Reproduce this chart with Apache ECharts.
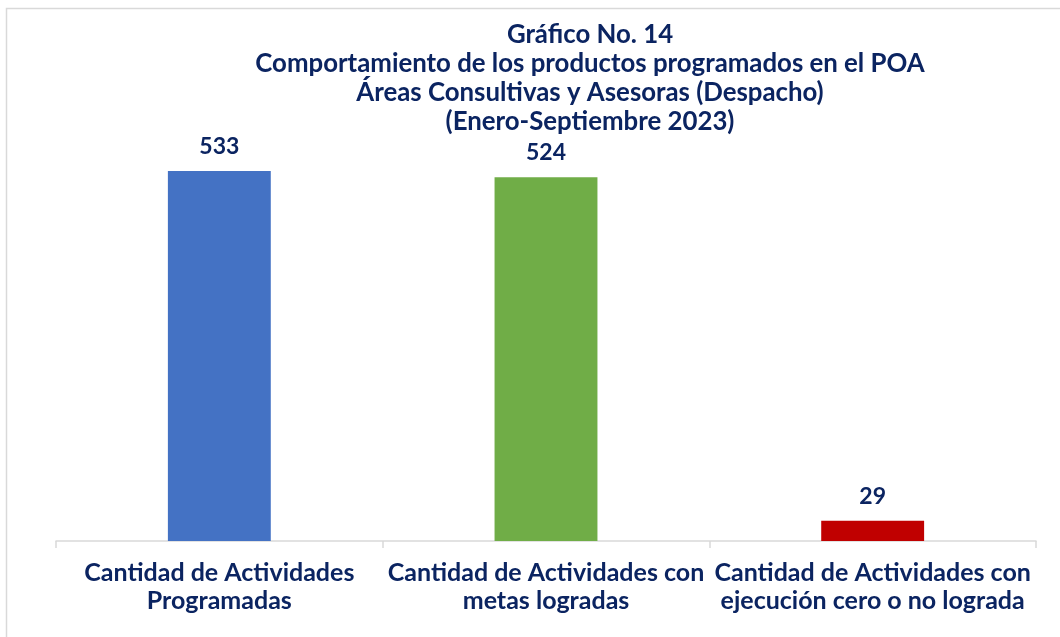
<!DOCTYPE html>
<html>
<head>
<meta charset="utf-8">
<script src="https://cdn.jsdelivr.net/npm/echarts@6/dist/echarts.min.js"></script>
<style>
  html, body { margin: 0; padding: 0; background: #fff; }
  #chart { width: 1060px; height: 637px; }
</style>
</head>
<body>
<div id="chart"></div>
<script>
const titleLines = [
  'Gráfico No. 14',
  'Comportamiento de los productos programados en el POA',
  'Áreas Consultivas y Asesoras (Despacho)',
  '(Enero-Septiembre 2023)'
];
const categories = [
  'Cantidad de Actividades\nProgramadas',
  'Cantidad de Actividades con\nmetas logradas',
  'Cantidad de Actividades con\nejecución cero o no lograda'
];
const values = [533, 524, 29];
const barColors = ['#4472C4', '#70AD47', '#C00000'];

const navy = '#0B2461';
const font = 'Lato';

let chart = echarts.init(document.getElementById('chart'));
chart.setOption({
  animation: false,
  textStyle: { fontFamily: font },
  title: {
    text: titleLines.join('\n'),
    left: 585,
    top: 15,
    textAlign: 'center',
    textStyle: {
      fontFamily: font,
      fontWeight: 'bold',
      fontSize: 25.8,
      lineHeight: 29,
      color: navy
    }
  },
  graphic: [{
    type: 'rect',
    shape: { x: 6.5, y: 8.5, width: 1100, height: 700 },
    style: { fill: 'none', stroke: '#D9D9D9', lineWidth: 1.5 },
    silent: true
  }],
  grid: {
    left: 56,
    right: 24,
    top: 124.5,
    bottom: 96
  },
  xAxis: {
    type: 'category',
    data: categories,
    axisLine: { lineStyle: { color: '#D9D9D9', width: 1.5 } },
    axisTick: { show: true, length: 7, lineStyle: { color: '#D9D9D9', width: 1.5 } },
    axisLabel: {
      interval: 0,
      margin: 18,
      fontFamily: font,
      fontWeight: 'bold',
      fontSize: 25,
      lineHeight: 28,
      color: navy
    }
  },
  yAxis: {
    type: 'value',
    min: 0,
    max: 600,
    show: false,
    splitLine: { show: false }
  },
  series: [{
    type: 'bar',
    barWidth: '31.5%',
    data: values.map((v, i) => ({ value: v, itemStyle: { color: barColors[i] } })),
    label: {
      show: true,
      position: 'top',
      distance: 13,
      fontFamily: font,
      fontWeight: 'bold',
      fontSize: 23,
      color: navy
    }
  }]
});
</script>
</body>
</html>
